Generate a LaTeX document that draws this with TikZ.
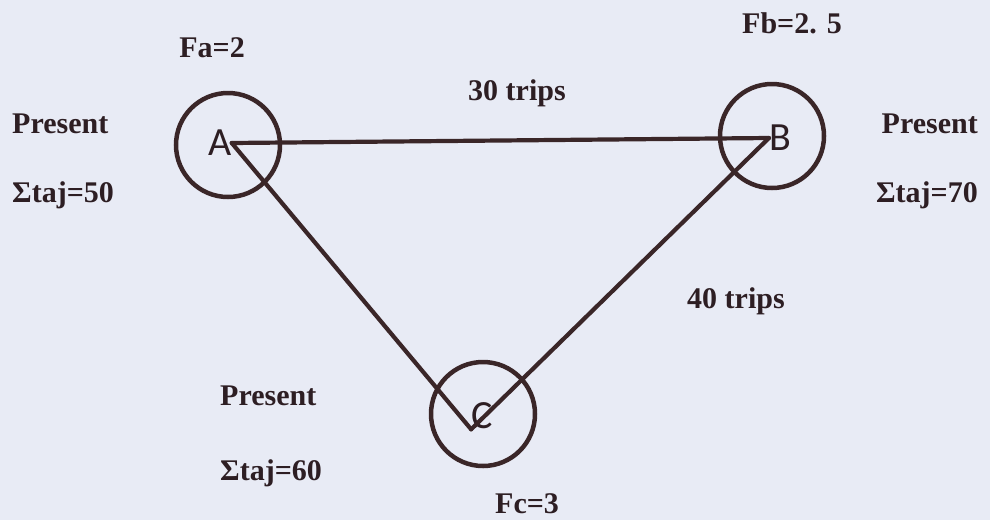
\documentclass[tikz,border=0pt]{standalone}
\usepackage{fontspec}
\setmainfont{Liberation Serif}
\newfontfamily\letterfont{Carlito}
\definecolor{paper}{RGB}{232,235,245}
\definecolor{ink}{RGB}{58,38,40}
\definecolor{txt}{RGB}{45,30,35}
\tikzset{
  lbl/.style={font=\bfseries\fontsize{30}{36}\selectfont,text=txt,inner sep=0pt},
  vtx/.style={font=\letterfont\fontsize{40}{44}\selectfont,text=txt,inner sep=0pt},
  ring/.style={draw=ink,circle,line width=4.5pt,minimum size=104pt,inner sep=0pt},
  edge/.style={draw=ink,line width=4.2pt,line cap=round}
}
\begin{document}
\begin{tikzpicture}[x=1pt,y=-1pt]
\fill[paper] (0,0) rectangle (990,520);
\useasboundingbox (0,0) rectangle (990,520);
% towns
\node[ring] (ra) at (228,145) {};
\node[ring] (rb) at (772,136) {};
\node[ring] (rc) at (483,414) {};
\node[vtx] (a) at (220,143) {A};
\node[vtx] (b) at (780,138) {B};
\node[vtx] (c) at (482,416) {C};
% trips
\draw[edge] (a.east) -- (b.west);
\draw[edge] (a.east) -- (c.south west);
\draw[edge] (c.south west) -- (b.west);
% labels
\node[lbl,anchor=base east] (fa) at (245,57) {Fa=2};
\node[lbl,anchor=base east] (fb) at (842,33) {Fb=2. 5};
\node[lbl,anchor=base west] (fc) at (495,513) {Fc=3};
\node[lbl,anchor=base west] (tab) at (468,100) {30 trips};
\node[lbl,anchor=base west] (tcb) at (687,308) {40 trips};
\node[lbl,anchor=base west] (pa) at (12,133) {Present};
\node[lbl,anchor=base west] (sa) at (12,202) {Σtaj=50};
\node[lbl,anchor=base east] (pb) at (978,133) {Present};
\node[lbl,anchor=base east] (sb) at (978,202) {Σtaj=70};
\node[lbl,anchor=base west] (pc) at (220,405) {Present};
\node[lbl,anchor=base west] (sc) at (220,480) {Σtaj=60};
\end{tikzpicture}
\end{document}
